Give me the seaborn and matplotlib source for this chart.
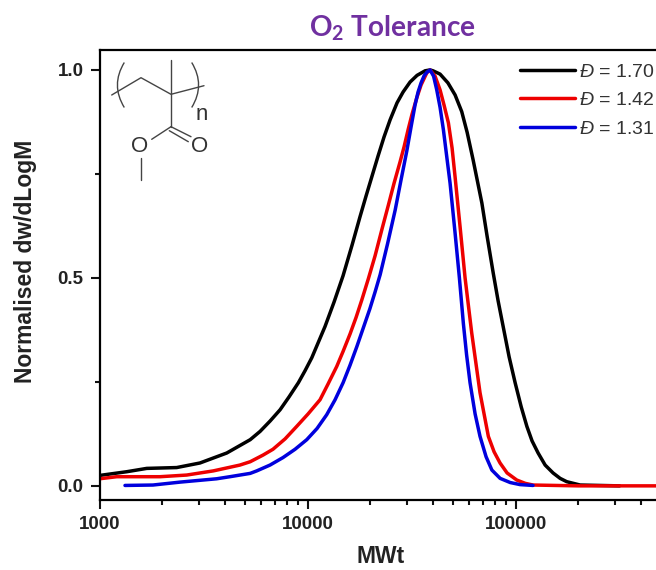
"""
plot.py

GPC traces of the O2 tolerance samples, normalised dw/dLogM against MWt.
"""

import pandas as pd
import seaborn as sns
import matplotlib.pyplot as plt
from matplotlib.lines import Line2D
from matplotlib.patches import PathPatch
from matplotlib.path import Path
from matplotlib.ticker import LogLocator, MultipleLocator, NullFormatter
from matplotlib.transforms import Affine2D

mw_black = [1000, 1352, 1687, 2350, 3040, 4090, 5300, 5915, 6610, 7380, 8150, 9035, 9730,
            10480, 11220, 12130, 13410, 14810, 16370, 17870, 19110, 20420, 21820, 23320,
            24930, 26930, 28790, 31110, 33600, 36720, 38800, 40090, 43350, 47280, 51180,
            55080, 58490, 62480, 68850, 72970, 78050, 82400, 87150, 93100, 99480, 106400,
            113300, 120000, 128300, 138700, 151400, 163700, 176200, 204300, 316000]
y_black = [0.025, 0.034, 0.042, 0.044, 0.055, 0.079, 0.111, 0.131, 0.156, 0.183, 0.214, 0.248, 0.277,
           0.308, 0.343, 0.383, 0.442, 0.505, 0.579, 0.647, 0.697, 0.745, 0.793, 0.839,
           0.880, 0.921, 0.947, 0.971, 0.987, 0.998, 1.0, 0.998, 0.990, 0.969, 0.940,
           0.900, 0.850, 0.784, 0.680, 0.600, 0.512, 0.445, 0.383, 0.310, 0.248, 0.190,
           0.143, 0.108, 0.079, 0.050, 0.031, 0.018, 0.010, 0.002, 0.0]

mw_red = [1000, 1210, 1954, 2626, 3525, 4730, 5300, 6110, 6820, 7800, 8870, 10060, 11480,
          12550, 13810, 14810, 16000, 17110, 18230, 19600, 21110, 22810, 24460, 26060,
          27840, 29100, 30420, 31800, 33500, 35130, 37420, 38820, 41020, 43350, 45330,
          47530, 49520, 51180, 54090, 57170, 61520, 67450, 73970, 78800, 84190, 91020,
          101300, 111300, 121300, 200000, 473000]
y_red = [0.017, 0.022, 0.022, 0.026, 0.036, 0.050, 0.058, 0.074, 0.088, 0.113, 0.143, 0.173, 0.207,
         0.245, 0.287, 0.323, 0.365, 0.405, 0.447, 0.498, 0.553, 0.618, 0.675, 0.728,
         0.779, 0.815, 0.856, 0.894, 0.933, 0.964, 0.993, 1.0, 0.985, 0.952, 0.915,
         0.873, 0.812, 0.743, 0.623, 0.500, 0.368, 0.224, 0.119, 0.082, 0.055, 0.031,
         0.014, 0.006, 0.002, 0.0, 0.0]

mw_blue = [1326, 1807, 2438, 3654, 4233, 5300, 5700, 6600, 7620, 8710, 9910, 11110, 12360,
           13560, 14820, 16000, 17260, 18480, 19940, 21110, 22340, 24240, 26370, 28150,
           29990, 31440, 32870, 33980, 35130, 36320, 37540, 38820, 40350, 41790, 43350,
           44980, 46850, 48420, 51180, 53690, 56110, 58140, 60400, 63880, 67450, 72130,
           76910, 84260, 94190, 105100, 121300]
y_blue = [0.001, 0.002, 0.009, 0.017, 0.022, 0.030, 0.036, 0.050, 0.068, 0.088, 0.111, 0.138, 0.171,
          0.207, 0.248, 0.290, 0.335, 0.378, 0.426, 0.466, 0.508, 0.582, 0.663, 0.736,
          0.805, 0.863, 0.916, 0.947, 0.969, 0.986, 0.995, 1.0, 0.985, 0.952, 0.910,
          0.856, 0.785, 0.728, 0.608, 0.500, 0.390, 0.315, 0.248, 0.173, 0.119, 0.070,
          0.038, 0.018, 0.008, 0.003, 0.001]

labels = [r"$\mathit{Đ}$ = 1.70", r"$\mathit{Đ}$ = 1.42", r"$\mathit{Đ}$ = 1.31"]
colors = ["#000000", "#ee0000", "#0000dd"]

sns.set_theme(style="ticks")
plt.rcParams["font.family"] = ["Liberation Sans", "DejaVu Sans"]
plt.rcParams["mathtext.fontset"] = "custom"
plt.rcParams["mathtext.rm"] = "Liberation Sans"
plt.rcParams["mathtext.it"] = "Liberation Sans:italic"
plt.rcParams["mathtext.bf"] = "Liberation Sans:bold"

df = pd.concat([
    pd.DataFrame({"MWt": mw_black, "y": y_black, "sample": labels[0]}),
    pd.DataFrame({"MWt": mw_red, "y": y_red, "sample": labels[1]}),
    pd.DataFrame({"MWt": mw_blue, "y": y_blue, "sample": labels[2]}),
])

fig = plt.figure(figsize=(6.56, 5.70), dpi=100, facecolor="white")
ax = fig.add_axes([99.5 / 656, 70 / 570, 556.5 / 656, 450 / 570])

sns.lineplot(
    data=df, x="MWt", y="y", hue="sample", hue_order=labels, palette=colors,
    estimator=None, sort=False, linewidth=2.5, ax=ax,
)

ax.set_xscale("log")
ax.set_xlim(1000, 473000)
ax.set_ylim(-0.034, 1.048)

ax.set_xticks([1000, 10000, 100000], labels=["1000", "10000", "100000"])
ax.xaxis.set_minor_locator(LogLocator(base=10, subs=range(2, 10), numticks=12))
ax.xaxis.set_minor_formatter(NullFormatter())
ax.yaxis.set_major_locator(MultipleLocator(0.5))
ax.yaxis.set_minor_locator(MultipleLocator(0.25))
ax.yaxis.set_major_formatter("{x:.1f}")

ax.tick_params(which="major", length=6.5, width=1.5, labelsize=13.5, pad=5, color="#111111")
ax.tick_params(which="minor", length=3.5, width=1.5, color="#111111")
for lab in ax.get_xticklabels() + ax.get_yticklabels():
    lab.set_fontweight("bold")
    lab.set_color("#222222")

for side in ["top", "left", "bottom"]:
    ax.spines[side].set_linewidth(1.6)
    ax.spines[side].set_color("black")
ax.spines["right"].set_visible(False)

ax.set_xlabel("MWt", fontsize=16.5, fontweight="bold", color="#222222", x=0.505, labelpad=9)
ax.set_ylabel("Normalised dw/dLogM", fontsize=16.5, fontweight="bold", color="#222222",
              y=0.531, labelpad=15)

ax.legend(
    loc="upper left", bbox_to_anchor=(0.7556, 0.971), frameon=False, fontsize=14,
    handlelength=2.83, handletextpad=0.2, labelspacing=0.56, borderpad=0, borderaxespad=0,
    labelcolor="#333333",
)

fig.text(392 / 656, 1 - 28 / 570, r"$\mathregular{O_2}$ Tolerance", ha="center", va="center",
         fontsize=20.2, fontweight="bold", color="#7030a0", family="Lato")

# methacrylate repeat unit, positions in image pixels
px = Affine2D().scale(1, -1).translate(0, 570)
bond = dict(color="#444444", linewidth=1.0, transform=px)
for xs, ys in [
    ([111.7, 141, 171, 204], [95, 77.7, 94.3, 85.7]),
    ([171, 171], [60, 126.7]),
    ([171, 151.7], [126.7, 139.3]),
    ([171, 191], [126.7, 136.7]),
    ([169.3, 188.3], [130.7, 141.7]),
    ([141, 141], [158.3, 180]),
]:
    fig.add_artist(Line2D(xs, ys, **bond))

for x_end, x_ctrl in [(124.3, 110.5), (191.7, 205.5)]:
    verts = [(x_end, 62.5), (x_ctrl, 85), (x_end, 107.5)]
    bracket = Path(verts, [Path.MOVETO, Path.CURVE3, Path.CURVE3])
    fig.add_artist(PathPatch(bracket, fill=False, edgecolor="#444444", linewidth=1.0, transform=px))

for x, y, s in [(140, 146.7, "O"), (200, 146.7, "O"), (201.7, 114, "n")]:
    fig.text(x / 656, 1 - y / 570, s, ha="center", va="center", fontsize=16, color="#333333")

plt.savefig("out.png", dpi=100)
plt.close()
